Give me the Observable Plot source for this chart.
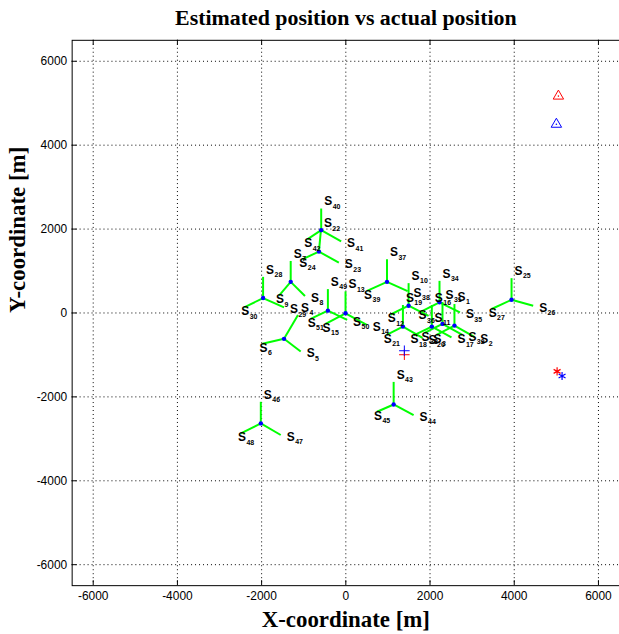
<!DOCTYPE html>
<html><head><meta charset="utf-8">
<script src="https://cdn.jsdelivr.net/npm/d3@7"></script>
<script src="https://cdn.jsdelivr.net/npm/@observablehq/plot@0.6"></script>
<style>html,body{margin:0;padding:0;background:#fff;overflow:hidden;}</style>
</head><body><div id="chart"></div>
<script>
// Sensor tripods: first sensor number of each group (up arm = n, lower-right = n+1, lower-left = n+2)
const groupStart = [40, 22, 7, 28, 49, 13, 4, 43, 46, 25, 37, 10, 19, 34, 16, 31, 1];
const nodeX = [-585, -639, -1309, -1965, -426, -7, -1468, 1136, -2019, 3936, 978, 1491, 1356, 2225, 2043, 2296, 2580];
const nodeY = [1975, 1463, 742, 356, 55, -7, -616, -2181, -2632, 315, 742, 173, -325, 254, -325, -261, -301];
const upX = [-585, -592, -1309, -1965, -426, -7, -1136, 1136, -2019, 3936, 978, 1491, 1356, 2225, 2043, 2296, 2580];
const upY = [2490, 1968, 1240, 861, 569, 515, -47, -1643, -2117, 830, 1280, 711, 190, 766, 190, 261, 213];
const lrX = [-111, -166, -970, -1468, 31, 497, -1072, 1610, -1546, 4450, 1468, 1965, 1823, 2710, 2509, 2769, 3053];
const lrY = [1707, 1202, 403, 135, -166, -285, -918, -2435, -2909, 173, 522, -71, -593, 12, -581, -522, -569];
const llX = [-916, -1034, -1586, -2414, -836, -481, -1981, 741, -2492, 3463, 504, 1065, 970, 1799, 1610, 1870, 2154];
const llY = [1755, 1280, 415, 135, -142, -261, -735, -2354, -2869, 95, 529, -36, -522, 36, -533, -474, -522];

// Reference markers
const triX = [5049, 5001], triY = [5170, 4499], triColor = ["red", "blue"];
const plusX = [1390, 1390], plusY = [-995, -900], plusColor = ["red", "blue"];
const astX = [5018, 5136], astY = [-1392, -1501], astColor = ["red", "blue"];

const xTicks = [-6000, -4000, -2000, 0, 2000, 4000, 6000];
const yTicks = [-6000, -4000, -2000, 0, 2000, 4000, 6000];
const titleText = "Estimated position vs actual position";
const xLabel = "X-coordinate [m]";
const yLabel = "Y-coordinate [m]";

const sensors = [];
groupStart.forEach((g, i) => {
  const ends = [[upX[i], upY[i]], [lrX[i], lrY[i]], [llX[i], llY[i]]];
  ends.forEach(([ex, ey], k) => sensors.push({id: g + k, kind: k, x1: nodeX[i], y1: nodeY[i], x2: ex, y2: ey}));
});
const nodes = nodeX.map((x, i) => ({x, y: nodeY[i]}));
const tri = triX.map((x, i) => ({x, y: triY[i], c: triColor[i]}));
const plus = plusX.map((x, i) => ({x, y: plusY[i], c: plusColor[i]}));
const ast = astX.map((x, i) => ({x, y: astY[i], c: astColor[i]}));

const offs = [[3, -7], [6, 2], [-3, 4]];
const labelMarks = [];
offs.forEach(([dx, dy], k) => {
  const d = sensors.filter(s => s.kind === k);
  labelMarks.push(Plot.text(d, {x: "x2", y: "y2", text: () => "S", dx, dy, textAnchor: "start", fontSize: 12, fontWeight: "bold", fill: "black"}));
  labelMarks.push(Plot.text(d, {x: "x2", y: "y2", text: s => String(s.id), dx: dx + 8.5, dy: dy + 5, textAnchor: "start", fontSize: 7, fontWeight: "bold", fill: "black"}));
});

const serif = "'Liberation Serif', 'Times New Roman', serif";
const chart = Plot.plot({
  width: 622, height: 634,
  marginLeft: 72, marginRight: 0, marginTop: 40, marginBottom: 46,
  style: {fontFamily: "'Liberation Sans', Arial, sans-serif", fontSize: "12px", background: "white", color: "black"},
  x: {domain: [-6500, 6500], ticks: xTicks, tickFormat: d => String(d), tickSize: 0, tickPadding: 6, label: null},
  y: {domain: [-6500, 6500], ticks: yTicks, tickFormat: d => String(d), tickSize: 0, tickPadding: 5, label: null},
  marks: [
    Plot.ruleX(xTicks, {stroke: "black", strokeDasharray: "1,3", strokeWidth: 1}),
    Plot.ruleY(yTicks, {stroke: "black", strokeDasharray: "1,3", strokeWidth: 1}),
    Plot.ruleX(xTicks, {y1: -6500, y2: -6380, stroke: "black"}),
    Plot.ruleX(xTicks, {y1: 6500, y2: 6380, stroke: "black"}),
    Plot.ruleY(yTicks, {x1: -6500, x2: -6380, stroke: "black"}),
    Plot.frame({stroke: "black"}),
    Plot.link(sensors, {x1: "x1", y1: "y1", x2: "x2", y2: "y2", stroke: "#00ff00", strokeWidth: 2}),
    Plot.dot(nodes, {x: "x", y: "y", r: 2.2, fill: "blue"}),
    ...labelMarks,
    Plot.dot(tri, {x: "x", y: "y", symbol: "triangle2", r: 5, stroke: "c", fill: "none", strokeWidth: 1}),
    Plot.dot(tri, {x: "x", y: "y", r: 0.8, fill: "c"}),
    Plot.dot(plus, {x: "x", y: "y", symbol: "plus", r: 3.5, stroke: "c", strokeWidth: 1}),
    Plot.dot(ast, {x: "x", y: "y", symbol: "asterisk", r: 3.8, stroke: "c", strokeWidth: 1.2}),
    Plot.text([titleText], {text: d => d, frameAnchor: "top", lineAnchor: "middle", dy: -22, fontSize: 22, fontWeight: "bold", fontFamily: serif}),
    Plot.text([xLabel], {text: d => d, frameAnchor: "bottom", lineAnchor: "middle", dy: 34, fontSize: 23, fontWeight: "bold", fontFamily: serif}),
    Plot.text([yLabel], {text: d => d, frameAnchor: "left", lineAnchor: "middle", dx: -55, rotate: -90, fontSize: 23, fontWeight: "bold", fontFamily: serif})
  ]
});
document.getElementById("chart").appendChild(chart);
</script>
</body></html>
